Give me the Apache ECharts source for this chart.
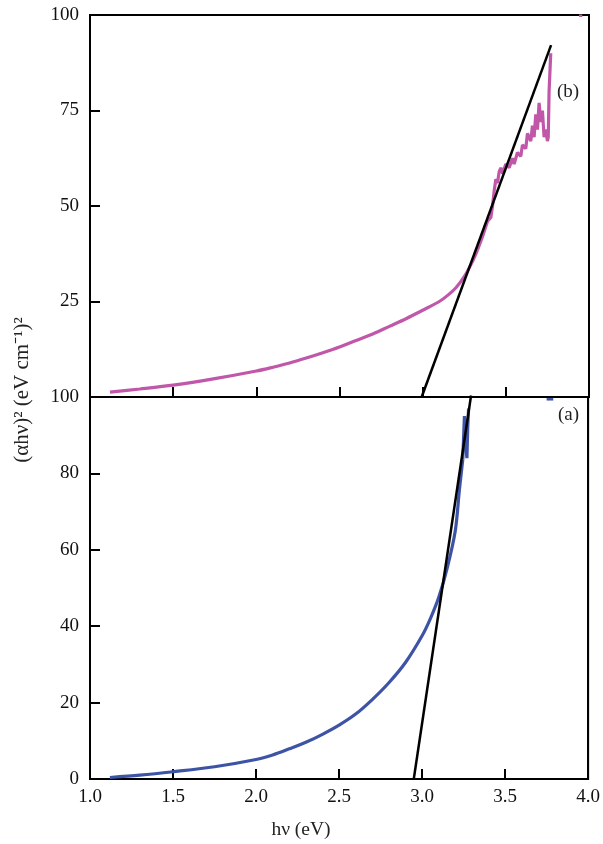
<!DOCTYPE html>
<html>
<head>
<meta charset="utf-8">
<script src="https://cdn.jsdelivr.net/npm/echarts@6/dist/echarts.min.js"></script>
<style>html,body{margin:0;padding:0;background:#fff;}#c{width:603px;height:844px;}</style>
</head>
<body>
<div id="c"></div>
<script>
// x ticks
var xTicks = [1.0, 1.5, 2.0, 2.5, 3.0, 3.5, 4.0];
// panel (b) magenta curve: smooth part
var bX = [1.12,1.3,1.5,1.75,2.0,2.1,2.2,2.3,2.4,2.5,2.6,2.7,2.8,2.9,3.0,3.1,3.15,3.2,3.25,3.3,3.33];
var bY = [1.3,2.1,3.1,4.8,6.8,7.8,8.9,10.2,11.6,13.1,14.8,16.5,18.5,20.5,22.7,25.0,26.6,28.6,31.5,35.5,38.5];
// panel (b) magenta curve: noisy part
var bNoiseX = [3.33,3.36,3.39,3.41,3.42,3.43,3.44,3.45,3.46,3.47,3.48,3.5,3.52,3.54,3.55,3.57,3.59,3.6,3.62,3.63,3.65,3.66,3.67,3.68,3.69,3.7,3.71,3.72,3.73,3.74,3.75,3.755,3.76,3.77];
var bNoiseY = [38.5,42,46,47,50,54,57,56,59,60,58.5,61,60,62.5,61,64,63,66,65,69,67,71,68,74,70,77,72,75,68,70,67,68,80,90];
// panel (b) fit line
var bFitX = [2.994, 3.772];
var bFitY = [0, 92.1];
// panel (a) blue curve: smooth part
var aX = [1.12,1.3,1.5,1.75,2.0,2.1,2.2,2.3,2.4,2.5,2.6,2.7,2.8,2.9,3.0,3.05,3.1,3.15,3.2,3.225,3.245];
var aY = [0.4,1.0,1.9,3.2,5.1,6.3,7.9,9.6,11.7,14.1,17.0,20.8,25.2,30.5,37.5,42,47.5,55,65,75.8,83.6];
// panel (a) blue curve: end blob
var aTailX = [3.245,3.255,3.262,3.27,3.275,3.28];
var aTailY = [83.6,95,88,84,92,97];
// panel (a) fit line
var aFitX = [2.95, 3.295];
var aFitY = [0, 100.4];
// stray marks near top edges
var bStrayX = [3.94, 3.96], bStrayY = [99.8, 99.8];
var aStrayX = [3.75, 3.79], aStrayY = [99.4, 99.4];

function pairs(xs, ys){ return xs.map(function(x,i){ return [x, ys[i]]; }); }

var FONT = 'Liberation Serif';
var MAG = '#c157a9', BLUE = '#3d53a6';

function xAxisCfg(gi, showLabels){
  return {
    type:'value', gridIndex:gi, min:1, max:4, interval:0.5,
    axisLine:{show:true, lineStyle:{color:'#000', width:2}},
    axisTick:{show:true, inside:true, length:10, lineStyle:{color:'#000', width:2}},
    splitLine:{show:false},
    axisLabel:{show:showLabels, color:'#111', fontFamily:FONT, fontSize:19, margin:9,
      formatter:function(v){ return v.toFixed(1); }}
  };
}
function yAxisCfg(gi, interval, hideZero){
  return {
    type:'value', gridIndex:gi, min:0, max:100, interval:interval,
    axisLine:{show:true, lineStyle:{color:'#000', width:2}},
    axisTick:{show:true, inside:true, length:10, lineStyle:{color:'#000', width:2}},
    splitLine:{show:false},
    axisLabel:{color:'#111', fontFamily:FONT, fontSize:19, margin:11,
      formatter:function(v){ return (hideZero && v===0) ? '' : String(v); }}
  };
}
function rightAxisCfg(gi){
  return {
    type:'value', gridIndex:gi, min:0, max:100, position:'right',
    axisLine:{show:true, lineStyle:{color:'#000', width:2}},
    axisTick:{show:false}, axisLabel:{show:false}, splitLine:{show:false}
  };
}

var chart = echarts.init(document.getElementById('c'), null, {renderer:'canvas'});
chart.setOption({
  animation:false,
  backgroundColor:'#fff',
  grid:[
    {left:90, top:15, width:499, height:382, show:true, borderColor:'#000', borderWidth:2, backgroundColor:'transparent'},
    {left:90, top:397, width:499, height:382, show:true, borderColor:'#000', borderWidth:2, backgroundColor:'transparent'}
  ],
  xAxis:[xAxisCfg(0,false), xAxisCfg(1,true)],
  yAxis:[yAxisCfg(0,25,true), yAxisCfg(1,20,false), rightAxisCfg(0), rightAxisCfg(1)],
  series:[
    {type:'line', xAxisIndex:0, yAxisIndex:0, data:pairs(bX,bY), smooth:0.3, showSymbol:false, lineStyle:{color:MAG, width:3.2}, z:2},
    {type:'line', xAxisIndex:0, yAxisIndex:0, data:pairs(bNoiseX,bNoiseY), showSymbol:false, lineStyle:{color:MAG, width:3.2}, z:2},
    {type:'line', xAxisIndex:0, yAxisIndex:0, data:pairs(bFitX,bFitY), showSymbol:false, lineStyle:{color:'#000', width:2.5}, z:3},
    {type:'line', xAxisIndex:0, yAxisIndex:0, data:pairs(bStrayX,bStrayY), showSymbol:false, clip:false, lineStyle:{color:MAG, width:2.5}, z:2},
    {type:'line', xAxisIndex:1, yAxisIndex:1, data:pairs(aX,aY), smooth:0.3, showSymbol:false, clip:false, lineStyle:{color:BLUE, width:3.2}, z:2},
    {type:'line', xAxisIndex:1, yAxisIndex:1, data:pairs(aTailX,aTailY), showSymbol:false, clip:false, lineStyle:{color:BLUE, width:3.2}, z:2},
    {type:'line', xAxisIndex:1, yAxisIndex:1, data:pairs(aFitX,aFitY), showSymbol:false, clip:false, lineStyle:{color:'#000', width:2.5}, z:3},
    {type:'line', xAxisIndex:1, yAxisIndex:1, data:pairs(aStrayX,aStrayY), showSymbol:false, clip:false, lineStyle:{color:BLUE, width:2.5}, z:2}
  ],
  graphic:[
    {type:'text', left:557, top:83, style:{text:'(b)', font:'19px "Liberation Serif"', fill:'#222'}},
    {type:'text', left:558, top:406, style:{text:'(a)', font:'19px "Liberation Serif"', fill:'#222'}},
    {type:'text', x:301, y:830, style:{text:'hν (eV)', font:'19.5px "Liberation Serif"', fill:'#222', align:'center', verticalAlign:'middle'}},
    {type:'text', x:22, y:390, rotation:Math.PI/2, style:{text:'(αhν)² (eV cm⁻¹)²', font:'21px "Liberation Serif"', fill:'#222', align:'center', verticalAlign:'middle'}}
  ]
});
</script>
</body>
</html>
